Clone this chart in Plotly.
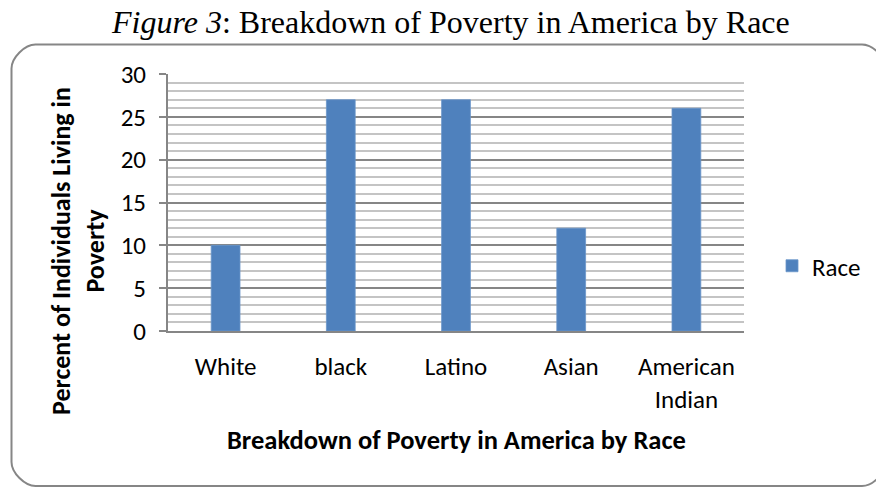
import plotly.graph_objects as go

categories = ["White", "black", "Latino", "Asian", "American<br>Indian"]
values = [10, 27, 27, 12, 26]
series_name = "Race"
y_ticks = [0, 5, 10, 15, 20, 25, 30]

W, H = 876, 487
L, R, T, B = 168, 744, 74, 331  # plot area in pixels


def px(x):
    return (x - L) / (R - L)


def py(y):
    return (B - y) / (B - T)


fig = go.Figure()
fig.add_trace(go.Bar(
    x=categories, y=values, name=series_name,
    marker=dict(color="#4f81bd", line=dict(color="#6a95c9", width=0.8)),
    showlegend=True,
))

# rounded border frame (pixel coords, converted to paper)
x0, x1, y0, y1, r = 11.5, 886, 44.5, 486, 24
k = 0.45 * r
path = (
    f"M {px(x0 + r)} {py(y0)} L {px(x1 - r)} {py(y0)} "
    f"C {px(x1 - r + k)} {py(y0)} {px(x1)} {py(y0 + r - k)} {px(x1)} {py(y0 + r)} "
    f"L {px(x1)} {py(y1 - r)} "
    f"C {px(x1)} {py(y1 - r + k)} {px(x1 - r + k)} {py(y1)} {px(x1 - r)} {py(y1)} "
    f"L {px(x0 + r)} {py(y1)} "
    f"C {px(x0 + r - k)} {py(y1)} {px(x0)} {py(y1 - r + k)} {px(x0)} {py(y1 - r)} "
    f"L {px(x0)} {py(y0 + r)} "
    f"C {px(x0)} {py(y0 + r - k)} {px(x0 + r - k)} {py(y0)} {px(x0 + r)} {py(y0)} Z"
)
fig.add_shape(type="path", path=path, xref="paper", yref="paper",
              line=dict(color="#868686", width=2), layer="below")

font_sans = "Carlito, Calibri, Lato, sans-serif"

fig.update_layout(
    width=W, height=H,
    margin=dict(l=L, r=W - R, t=T, b=H - B, pad=0, autoexpand=False),
    paper_bgcolor="white", plot_bgcolor="white",
    bargap=0.75,
    font=dict(family=font_sans, color="black"),
    legend=dict(xref="container", yref="container",
                x=772 / W, y=1 - 266 / H,
                xanchor="left", yanchor="middle",
                font=dict(size=25, family=font_sans), itemwidth=30,
                bgcolor="rgba(0,0,0,0)"),
    xaxis=dict(
        showline=True, linecolor="#868686", linewidth=2,
        ticks="", tickfont=dict(size=25), ticklabelstandoff=12,
        showgrid=False, fixedrange=True, automargin=False,
    ),
    yaxis=dict(
        range=[0, 30], tickvals=y_ticks, showline=True, linecolor="#868686", linewidth=2,
        ticks="outside", ticklen=7, tickcolor="#868686", tickwidth=2,
        tickfont=dict(size=25), ticklabelstandoff=8, automargin=False,
        showgrid=True, gridcolor="#868686", gridwidth=2,
        minor=dict(dtick=1, showgrid=True, gridcolor="#c4c4c4", gridwidth=2),
        zeroline=False, fixedrange=True,
    ),
    annotations=[
        dict(text="<i>Figure 3</i>: Breakdown of Poverty in America by Race",
             x=px(450), y=py(22), xref="paper", yref="paper", showarrow=False,
             xanchor="center", yanchor="middle",
             font=dict(family="Liberation Serif, Times New Roman, serif", size=32)),
        dict(text="<b>Percent of Individuals Living in<br>Poverty</b>",
             x=px(78), y=py(251), xref="paper", yref="paper", showarrow=False,
             xanchor="center", yanchor="middle",
             textangle=-90, font=dict(size=26)),
        dict(text="<b>Breakdown of Poverty in America by Race</b>",
             x=px(456), y=py(440), xref="paper", yref="paper", showarrow=False,
             xanchor="center", yanchor="middle",
             font=dict(size=26.5)),
    ],
)

fig.write_html("out.html", config={"displayModeBar": False},
               post_script="document.body.style.margin='0';document.body.style.overflow='hidden';")
